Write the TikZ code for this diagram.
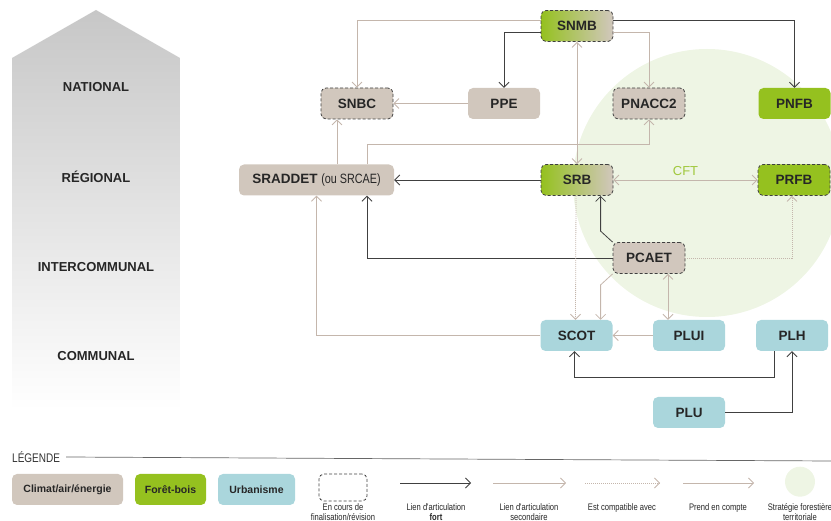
\documentclass[tikz,border=0pt]{standalone}
\usepackage{fontspec}
\setmainfont{Liberation Sans}
\newfontfamily\narrowfont[FakeStretch=0.8]{Liberation Sans}
\usetikzlibrary{arrows.meta}
\definecolor{colBeige}{RGB}{209,199,189}
\definecolor{colBois}{RGB}{149,193,31}
\definecolor{colUrba}{RGB}{170,214,220}
\definecolor{colSec}{RGB}{196,182,172}
\definecolor{colStrong}{RGB}{64,64,64}
\definecolor{colCircle}{RGB}{238,245,228}
\definecolor{colCft}{RGB}{160,200,60}
\begin{document}
\begin{tikzpicture}[x=1pt,y=-1pt,>={Straight Barb[length=5pt,width=10pt]},
    box/.style={rounded corners=5pt,minimum width=72pt,minimum height=31pt,inner sep=0pt,
      font=\fontsize{13.5}{15}\selectfont\bfseries,text=black!85},
    climat/.style={box,fill=colBeige},
    bois/.style={box,fill=colBois},
    urba/.style={box,fill=colUrba},
    mixed/.style={box,left color=colBois,right color=colBeige},
    revision/.style={draw=colStrong,dash pattern=on 3pt off 2pt,line width=0.8pt},
    strong/.style={draw=colStrong,line width=0.8pt,->},
    sec/.style={draw=colSec,line width=0.8pt,->},
    compat/.style={draw=colSec,line width=0.8pt,dash pattern=on 1pt off 1pt,->},
    level/.style={font=\fontsize{13}{15}\selectfont\bfseries,text=black!85},
    legbox/.style={rounded corners=5pt,minimum height=31pt,inner sep=0pt,
      font=\fontsize{10.5}{12}\selectfont\bfseries,text=black!85},
    legtext/.style={align=center,inner sep=0pt,font=\narrowfont\fontsize{9.5}{10}\selectfont,text=black!85}]
\useasboundingbox (0,0) rectangle (831,521);
\shade[top color=black!22,bottom color=white] (12,410) -- (12,58) -- (96,10) -- (180,58) -- (180,410) -- cycle;
\node[level] (national) at (96,87) {NATIONAL};
\node[level] (regional) at (96,177) {RÉGIONAL};
\node[level] (intercom) at (96,267) {INTERCOMMUNAL};
\node[level] (communal) at (96,356) {COMMUNAL};
\fill[colCircle] (707,183) circle (134);
\node[mixed,revision] (snmb) at (577,26) {SNMB};
\node[climat,revision] (snbc) at (357,103.5) {SNBC};
\node[climat] (ppe) at (504,103.5) {PPE};
\node[climat,revision] (pnacc) at (649,103.5) {PNACC2};
\node[bois] (pnfb) at (794.5,103.5) {PNFB};
\node[climat,minimum width=155pt] (sraddet) at (316.5,180) {SRADDET {\narrowfont\mdseries\fontsize{13.5}{15}\selectfont (ou SRCAE)}};
\node[mixed,revision] (srb) at (577,180) {SRB};
\node[bois,revision] (prfb) at (794,180) {PRFB};
\node[climat,revision] (pcaet) at (649,258) {PCAET};
\node[urba] (scot) at (576.5,335.5) {SCOT};
\node[urba] (plui) at (689,335.5) {PLUI};
\node[urba] (plh) at (792,335.5) {PLH};
\node[urba] (plu) at (689,412.5) {PLU};
\draw[sec] ([yshift=6]snmb.west) -| (snbc.north);
\draw[strong] ([yshift=-6]snmb.west) -| (ppe.north);
\draw[sec] (ppe) -- (snbc);
\draw[strong] ([yshift=6]snmb.east) -| (pnfb.north);
\draw[sec] ([yshift=-6]snmb.east) -| (pnacc.north);
\draw[sec,<->] (snmb) -- (srb);
\draw[sec] ([xshift=50.5]sraddet.north) |- ([yshift=-25.5]pnacc.south) -- (pnacc.south);
\draw[sec] ([xshift=20.5]sraddet.north) -- ([xshift=20.5]sraddet.north |- snbc.south);
\draw[strong] (srb) -- (sraddet);
\draw[sec,<->] (srb) -- node[above=1pt,text=colCft,font=\fontsize{13}{15}\selectfont] (cft) {CFT} (prfb);
\draw[strong] (pcaet.north west) -- ++(-12,-11) coordinate (k1) -- (k1 |- srb.south);
\draw[strong] (pcaet.west) -| ([xshift=50.5]sraddet.south);
\draw[compat] (pcaet.east) -| ([xshift=-2]prfb.south);
\draw[compat] ([xshift=-1]srb.south) -- ([xshift=-1]scot.north);
\draw[sec] (pcaet.south west) -- ++(-12,11) coordinate (k2) -- (k2 |- scot.north);
\draw[sec,<->] ([xshift=19]pcaet.south) -- ([xshift=-21]plui.north);
\draw[sec] (plui) -- (scot);
\draw[sec] (scot.west) -| (sraddet.south);
\draw[strong] ([xshift=-18]plh.south) -- ++(0,26) -| ([xshift=-2]scot.south);
\draw[strong] (plu.east) -| (plh.south);
\node[anchor=west,inner sep=0pt,font=\narrowfont\fontsize{12.5}{14}\selectfont,text=black!80] (legende) at (12,457) {LÉGENDE};
\draw[black!60,line width=0.7pt] ([xshift=6]legende.east) -- (831,461);
\node[legbox,fill=colBeige,minimum width=111pt] (legclimat) at (67.5,489.5) {Climat/air/énergie};
\node[legbox,fill=colBois,minimum width=71pt] (legbois) at (170.5,489.5) {Forêt-bois};
\node[legbox,fill=colUrba,minimum width=77pt] (legurba) at (256.5,489.5) {Urbanisme};
\node[legbox,revision,minimum width=48pt,minimum height=27pt] (legrev) at (343,487.5) {};
\node[legtext] (legrevtext) at (343,512) {En cours de\\finalisation/révision};
\coordinate (s1) at (400,483);
\coordinate (s2) at (493,483);
\coordinate (s3) at (585,483);
\coordinate (s4) at (683,483);
\draw[strong] (s1) -- ++(71,0);
\draw[sec] (s2) -- ++(73,0);
\draw[compat] (s3) -- ++(75,0);
\draw[sec] (s4) -- ++(71,0);
\node[legtext] (legstrong) at (436,512) {Lien d'articulation\\\textbf{fort}};
\node[legtext] (legsec) at (529,512) {Lien d'articulation\\secondaire};
\node[legtext] (legcompat) at (622,508) {Est compatible avec};
\node[legtext] (legprend) at (718,508) {Prend en compte};
\fill[colCircle] (800,481.7) circle (15);
\node[legtext] (legcft) at (800,512) {Stratégie forestière\\territoriale};
\end{tikzpicture}
\end{document}
